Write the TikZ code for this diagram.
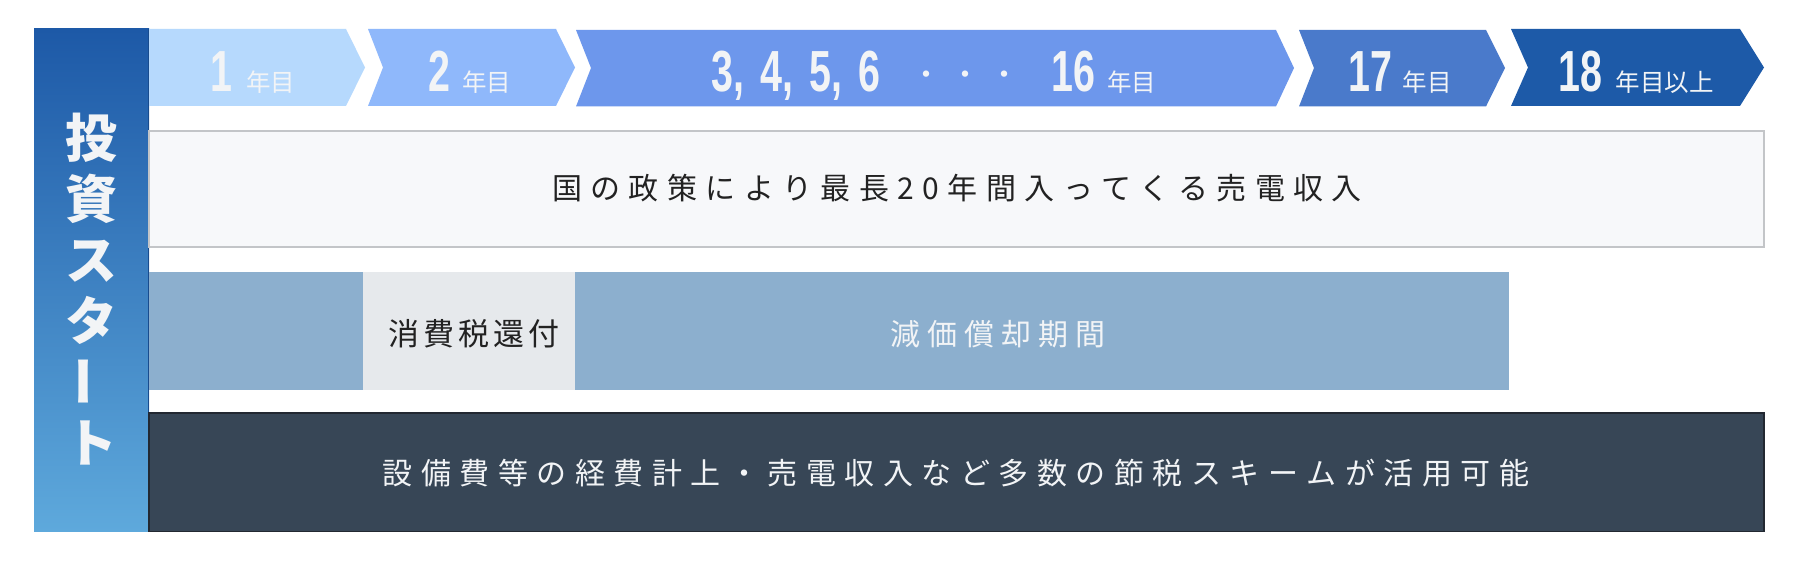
\documentclass[tikz,border=0pt]{standalone}
\usepackage{fontspec}
\usepackage{graphicx}
\newfontfamily\jp{Noto Sans CJK JP}
\newfontfamily\numfont{Liberation Sans}
\definecolor{barTop}{HTML}{1D59A7}
\definecolor{barBot}{HTML}{5EA9DC}
\definecolor{chA}{HTML}{B6D9FD}
\definecolor{chB}{HTML}{8FB8FB}
\definecolor{chC}{HTML}{6D97EC}
\definecolor{chD}{HTML}{4A7ACB}
\definecolor{chE}{HTML}{1D5AA8}
\definecolor{txtlight}{HTML}{F2F4F6}
\definecolor{txtdark}{HTML}{222222}
\definecolor{boxfill}{HTML}{F7F8FA}
\definecolor{boxline}{HTML}{C3C5C8}
\definecolor{segblue}{HTML}{8CAFCE}
\definecolor{seggray}{HTML}{E6E9EC}
\definecolor{darkfill}{HTML}{374656}
\definecolor{darkline}{HTML}{222831}
\newlength\trk
\def\spaced#1{\spacedaux#1\relax}
\def\spacedaux#1{\ifx\relax#1\unskip\else#1\hskip\trk\expandafter\spacedaux\fi}
\newcommand\yr[1]{\scalebox{0.68}[1]{\numfont\bfseries\fontsize{58}{58}\selectfont #1}}
\newcommand\nen[1]{{\jp\fontsize{24.5}{25}\selectfont #1}}
\newcommand\dotc{{\jp\fontsize{30}{30}\selectfont\raisebox{6pt}{・}}}
\begin{document}
\begin{tikzpicture}[x=1pt,y=-1pt,
  lbl/.style={text=txtlight, anchor=base, inner sep=0pt},
  vch/.style={text=txtlight, inner sep=0pt, font=\jp\bfseries\fontsize{52}{52}\selectfont},
  rowtxt/.style={inner sep=0pt, font=\jp\fontsize{30}{30}\selectfont}]
\useasboundingbox (0,0) rectangle (1800,561);
\fill[white] (0,0) rectangle (1800,561);
% left bar
\shade[top color=barTop, bottom color=barBot] (34,29) rectangle (149,531.5);
\draw[barTop!85!black, line width=1pt] (148.5,29) -- (148.5,531.5);
% chevrons
\fill[chA] (149,29) -- (346,29) -- (365,67.5) -- (346,106) -- (149,106) -- cycle;
\fill[chB] (368,29) -- (556,29) -- (575,67.5) -- (556,106) -- (368,106) -- (383,67.5) -- cycle;
\fill[chC] (576,30) -- (1276,30) -- (1294,68) -- (1276,106.5) -- (576,106.5) -- (591,68) -- cycle;
\fill[chD] (1299,30) -- (1486,30) -- (1505,68) -- (1486,106.5) -- (1299,106.5) -- (1314,68) -- cycle;
\fill[chE] (1511,29) -- (1740,29) -- (1764,67.5) -- (1740,106) -- (1511,106) -- (1528,67.5) -- cycle;
% chevron labels
\node[lbl] (y1) at (253,92) {\yr{1}\hspace{14pt}\nen{年目}};
\node[lbl] (y2) at (470,92) {\yr{2}\hspace{12pt}\nen{年目}};
\node[lbl] (y3) at (934,92) {\yr{3,}\hspace{16pt}\yr{4,}\hspace{16pt}\yr{5,}\hspace{16pt}\yr{6}\hspace{31pt}\dotc\hspace{9pt}\dotc\hspace{9pt}\dotc\hspace{32pt}\yr{16}\hspace{12pt}\nen{年目}};
\node[lbl] (y4) at (1400,92) {\yr{17}\hspace{11pt}\nen{年目}};
\node[lbl] (y5) at (1636,92) {\yr{18}\hspace{14pt}\nen{年目以上}};
% vertical title
\node[vch] (v1) at (91.5,138) {投};
\node[vch] (v2) at (91.5,199) {資};
\node[vch] (v3) at (91.5,261) {ス};
\node[vch] (v4) at (91.5,320) {タ};
\node[vch, rotate=90] (v5) at (91.5,381) {ー};
\node[vch] (v6) at (91.5,443) {ト};
% revenue box
\draw[fill=boxfill, draw=boxline, line width=1.5pt] (149,131) rectangle (1764,247);
\node[rowtxt, text=txtdark] (rev) at (957,188) {\setlength\trk{8.4pt}\spaced{国の政策により最長20年間入ってくる売電収入}};
% row 3
\fill[segblue] (149,272) rectangle (363,390);
\fill[seggray] (363,272) rectangle (575,390);
\fill[segblue] (575,272) rectangle (1509,390);
\node[rowtxt, text=txtdark, font=\jp\fontsize{31}{31}\selectfont] (tax) at (474,334) {\setlength\trk{4pt}\spaced{消費税還付}};
\node[rowtxt, text=txtlight] (dep) at (998,334) {\setlength\trk{7pt}\spaced{減価償却期間}};
% dark box
\draw[fill=darkfill, draw=darkline, line width=1.5pt] (149,413) rectangle (1764,531.5);
\node[rowtxt, text=txtlight] (scheme) at (956,473) {\setlength\trk{8.5pt}\spaced{設備費等の経費計上・売電収入など多数の節税スキームが活用可能}};
\end{tikzpicture}
\end{document}
